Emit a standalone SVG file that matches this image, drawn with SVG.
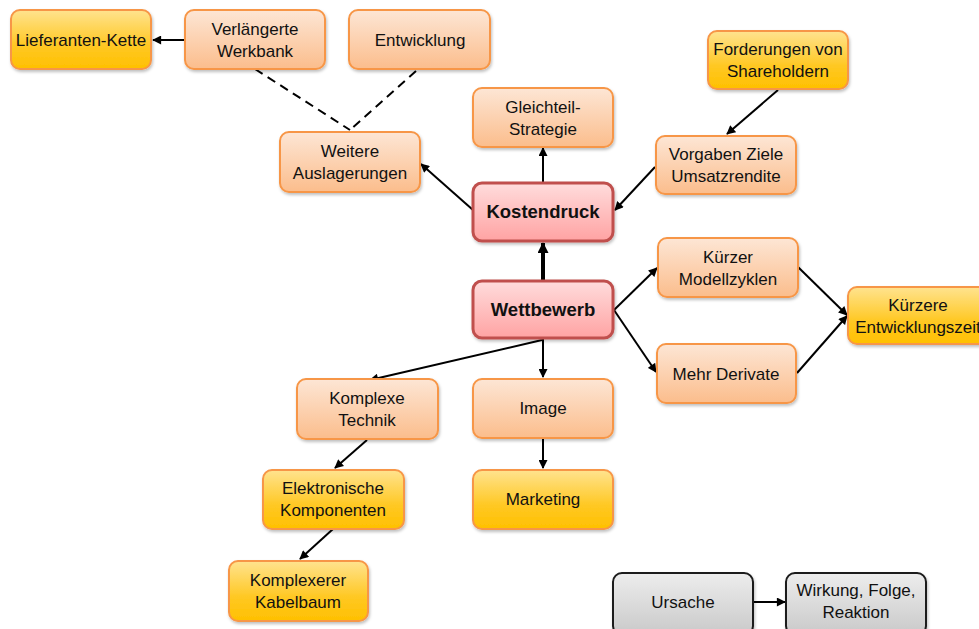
<svg xmlns="http://www.w3.org/2000/svg" width="979" height="629" viewBox="0 0 979 629">
<defs>
<linearGradient id="gO" x1="0" y1="0" x2="0" y2="1"><stop offset="0" stop-color="#fde6d5"/><stop offset="1" stop-color="#fbbd8c"/></linearGradient>
<linearGradient id="gY" x1="0" y1="0" x2="0" y2="1"><stop offset="0" stop-color="#ffe38f"/><stop offset="0.6" stop-color="#ffc823"/><stop offset="1" stop-color="#ffc000"/></linearGradient>
<linearGradient id="gR" x1="0" y1="0" x2="0" y2="1"><stop offset="0" stop-color="#ffdcdc"/><stop offset="1" stop-color="#ffa3a3"/></linearGradient>
<linearGradient id="gG" x1="0" y1="0" x2="0" y2="1"><stop offset="0" stop-color="#ededed"/><stop offset="1" stop-color="#c9c9c9"/></linearGradient>
<filter id="sh" x="-10%" y="-10%" width="130%" height="140%"><feDropShadow dx="1" dy="2" stdDeviation="1.5" flood-color="#000" flood-opacity="0.25"/></filter>
<marker id="ah" viewBox="0 0 10 10" refX="9" refY="5" markerWidth="10" markerHeight="9" markerUnits="userSpaceOnUse" orient="auto"><path d="M0,0 L10,5 L0,10 Z" fill="#000"/></marker>
<marker id="ahT" viewBox="0 0 10 10" refX="9" refY="5" markerWidth="12" markerHeight="11" markerUnits="userSpaceOnUse" orient="auto"><path d="M0,0 L10,5 L0,10 Z" fill="#000"/></marker>
</defs>
<style>
.o{fill:url(#gO);stroke:#f79646;stroke-width:2;filter:url(#sh)}
.y{fill:url(#gY);stroke:#f79646;stroke-width:2;filter:url(#sh)}
.r{fill:url(#gR);stroke:#c0504d;stroke-width:3;filter:url(#sh)}
.g{fill:url(#gG);stroke:#1a1a1a;stroke-width:2;filter:url(#sh)}
text{font-family:"Liberation Sans",Arial,sans-serif;font-size:17px;fill:#111;text-anchor:middle}
text.b{font-weight:bold;font-size:18.5px}
.c line{stroke:#000;stroke-width:2;marker-end:url(#ah)}
.c line.t{stroke-width:4;marker-end:url(#ahT)}
.c line.d{stroke-dasharray:9,6;marker-end:none}
</style>
<g class="c" id="connectors">
<line x1="185" y1="40" x2="153" y2="40"/>
<line class="d" x1="255" y1="69" x2="350" y2="130"/>
<line class="d" x1="416" y1="71" x2="350" y2="130"/>
<line x1="473" y1="210" x2="421" y2="164"/>
<line x1="543" y1="182" x2="543" y2="148"/>
<line x1="778" y1="90" x2="727" y2="134"/>
<line x1="655" y1="167" x2="615" y2="210"/>
<line class="t" x1="543" y1="280" x2="543" y2="243"/>
<line x1="614" y1="310" x2="657" y2="268"/>
<line x1="614" y1="310" x2="656" y2="372"/>
<line x1="798" y1="267" x2="847" y2="315"/>
<line x1="797" y1="373" x2="847" y2="316"/>
<line x1="543" y1="339" x2="543" y2="377"/>
<line x1="542" y1="340" x2="370" y2="380"/>
<line x1="543" y1="439" x2="543" y2="468"/>
<line x1="367" y1="440" x2="335" y2="468"/>
<line x1="333" y1="529" x2="300" y2="559"/>
<line x1="753" y1="602" x2="785" y2="602"/>
</g>
<g id="lieferanten"><rect class="y" x="11" y="10" width="140" height="59" rx="9"/><text x="81" y="46">Lieferanten-Kette</text></g>
<g id="werkbank"><rect class="o" x="185" y="10" width="140" height="59" rx="9"/><text x="255" y="35">Verlängerte</text><text x="255" y="57">Werkbank</text></g>
<g id="entwicklung"><rect class="o" x="349" y="10" width="141" height="59" rx="9"/><text x="420" y="46">Entwicklung</text></g>
<g id="auslagerungen"><rect class="o" x="280" y="132" width="140" height="60" rx="9"/><text x="350" y="157">Weitere</text><text x="350" y="179">Auslagerungen</text></g>
<g id="gleichteil"><rect class="o" x="473" y="88" width="140" height="59" rx="9"/><text x="543" y="113">Gleichteil-</text><text x="543" y="135">Strategie</text></g>
<g id="forderungen"><rect class="y" x="708" y="31" width="140" height="58" rx="9"/><text x="778" y="55">Forderungen von</text><text x="778" y="77">Shareholdern</text></g>
<g id="vorgaben"><rect class="o" x="656" y="136" width="140" height="58" rx="9"/><text x="726" y="160">Vorgaben Ziele</text><text x="726" y="182">Umsatzrendite</text></g>
<g id="kostendruck"><rect class="r" x="473" y="183" width="140" height="58" rx="9"/><text class="b" x="543" y="218">Kostendruck</text></g>
<g id="wettbewerb"><rect class="r" x="473" y="281" width="140" height="57" rx="9"/><text class="b" x="543" y="316">Wettbewerb</text></g>
<g id="modellzyklen"><rect class="o" x="658" y="238" width="140" height="59" rx="9"/><text x="728" y="263">Kürzer</text><text x="728" y="285">Modellzyklen</text></g>
<g id="derivate"><rect class="o" x="657" y="344" width="139" height="59" rx="9"/><text x="726" y="380">Mehr Derivate</text></g>
<g id="entwicklungszeit"><rect class="y" x="848" y="287" width="141" height="57" rx="9"/><text x="918" y="311">Kürzere</text><text x="918" y="333">Entwicklungszeit</text></g>
<g id="technik"><rect class="o" x="297" y="379" width="141" height="60" rx="9"/><text x="367" y="404">Komplexe</text><text x="367" y="426">Technik</text></g>
<g id="image"><rect class="o" x="473" y="379" width="140" height="59" rx="9"/><text x="543" y="414">Image</text></g>
<g id="elektronische"><rect class="y" x="263" y="470" width="141" height="59" rx="9"/><text x="333" y="494">Elektronische</text><text x="333" y="516">Komponenten</text></g>
<g id="marketing"><rect class="y" x="473" y="470" width="140" height="59" rx="9"/><text x="543" y="505">Marketing</text></g>
<g id="kabelbaum"><rect class="y" x="229" y="561" width="139" height="60" rx="9"/><text x="298" y="586">Komplexerer</text><text x="298" y="608">Kabelbaum</text></g>
<g id="ursache"><rect class="g" x="613" y="573" width="140" height="62" rx="9"/><text x="683" y="608">Ursache</text></g>
<g id="wirkung"><rect class="g" x="786" y="573" width="140" height="62" rx="9"/><text x="856" y="596">Wirkung, Folge,</text><text x="856" y="618">Reaktion</text></g>
</svg>
